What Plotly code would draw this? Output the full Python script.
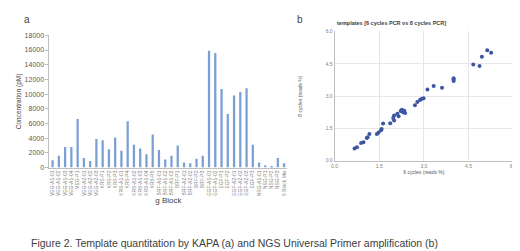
import plotly.graph_objects as go

# ---- Panel a: KAPA quantitation (bar chart) ----
blocks = ["VEG-A1-01", "VEG-A1-02", "VEG-A1-03", "VEG-A1-04", "VEG-P1", "VEG-A2-01",
          "VEG-A2-02", "VEG-A2-03", "KRS-P1", "KRS-P2", "KRS-P3", "KRS-A1-01",
          "KRS-P4", "KRS-A1-02", "KRS-A1-03", "KRS-A1-04", "KRS-P5", "BRF-A1-01",
          "BRF-A1-02", "BRF-A1-03", "BRF-P1", "BRF-A2-01", "BRF-A2-02", "BRF-P2",
          "BRF-P3", "EGF-A1-01", "EGF-A1-02", "EGF-P1", "EGF-P2", "EGF-A2-01",
          "EGF-A2-02", "EGF-A2-03", "EGF-P3", "NSG-A1-01", "NSG-P1", "NSG-P2",
          "NSG-P3", "5 Block Mix"]
concentration = [1000, 1600, 2800, 2800, 6600, 1300, 900, 3900, 3700, 2500,
                 4100, 2300, 6300, 3100, 2600, 1800, 4500, 2400, 1100, 1600,
                 3000, 700, 600, 1200, 1600, 15900, 15600, 10700, 7300, 9800,
                 10300, 10800, 3100, 700, 300, 200, 1300, 600]
y_ticks_a = [0, 2000, 4000, 6000, 8000, 10000, 12000, 14000, 16000, 18000]

# ---- Panel b: 6 vs 8 cycles PCR (scatter) ----
cycles6 = [0.67, 0.75, 0.89, 0.97, 1.08, 1.11, 1.17, 1.42, 1.48, 1.56, 1.58, 1.63,
           1.87, 2.00, 1.97, 2.00, 2.15, 2.11, 2.22, 2.26, 2.34, 2.30, 2.37,
           2.70, 2.78, 2.87, 2.92, 2.99, 3.12, 3.33, 3.61, 4.00, 4.00, 4.00,
           4.66, 4.87, 4.95, 5.13, 5.26]
cycles8 = [0.57, 0.63, 0.82, 0.86, 1.05, 1.09, 1.24, 1.24, 1.31, 1.42, 1.47, 1.73,
           1.74, 1.87, 1.98, 2.10, 2.07, 2.18, 2.31, 2.37, 2.32, 2.25, 2.22,
           2.58, 2.73, 2.82, 2.87, 2.90, 3.30, 3.47, 3.39, 3.70, 3.77, 3.83,
           4.47, 4.40, 4.82, 5.13, 5.01]
ticks_b = [0.0, 1.5, 3.0, 4.5, 6.0]

W, H = 520, 251
def px(x):
    return x / W
def py(y):
    return 1 - y / H

fig = go.Figure()
fig.add_trace(go.Bar(x=blocks, y=concentration, marker_color="#7a9fd4",
                     marker_line_width=0, width=0.36, xaxis="x", yaxis="y"))
fig.add_trace(go.Scatter(x=cycles6, y=cycles8, mode="markers",
                         marker=dict(color="#3c55a5", size=4),
                         xaxis="x2", yaxis="y2"))

font = "Liberation Sans, Arial, sans-serif"
fig.update_layout(
    width=W, height=H, margin=dict(l=0, r=0, t=0, b=0),
    paper_bgcolor="white", plot_bgcolor="white", showlegend=False,
    font=dict(family=font, color="#595959"),
    bargap=0.6,
    xaxis=dict(domain=[px(39), px(280)], type="category",
               range=[-0.5, len(blocks) - 0.5],
               tickangle=-90, tickfont=dict(size=5, color="#7f7f7f"),
               showline=True, linecolor="#bfbfbf", linewidth=1,
               ticks="", showgrid=False, anchor="y",
               title=dict(text="g Block", font=dict(size=8, color="#404040"),
                          standoff=2)),
    yaxis=dict(domain=[py(160), py(24)], range=[0, 18000],
               tickvals=y_ticks_a, tickformat="d",
               tickfont=dict(size=7, color="#595959"),
               showline=True, linecolor="#bfbfbf", linewidth=1,
               ticks="outside", ticklen=3, tickcolor="#bfbfbf",
               showgrid=False, zeroline=False, anchor="x",
               title=dict(text="Concentration (pM)", font=dict(size=6.5, color="#404040"),
                          standoff=2)),
    xaxis2=dict(domain=[px(328), px(509)], range=[0, 6], tickvals=ticks_b,
                ticktext=["%.1f" % t for t in ticks_b],
                tickfont=dict(size=5, color="#7f7f7f"),
                showline=True, linecolor="#bfbfbf", linewidth=1,
                showgrid=True, gridcolor="#e6e6e6", zeroline=False, anchor="y2",
                title=dict(text="6 cycles (reads %)", font=dict(size=5, color="#595959"),
                           standoff=0)),
    yaxis2=dict(domain=[py(153), py(20)], range=[0, 6], tickvals=ticks_b,
                ticktext=["%.1f" % t for t in ticks_b],
                tickfont=dict(size=5, color="#7f7f7f"),
                showline=True, linecolor="#bfbfbf", linewidth=1,
                showgrid=True, gridcolor="#e6e6e6", zeroline=False, anchor="x2",
                title=dict(text="8 cycles (reads %)", font=dict(size=5, color="#595959"),
                           standoff=22)),
    annotations=[
        dict(text="a", x=px(11), y=py(8), xref="paper", yref="paper",
             xanchor="left", yanchor="middle", showarrow=False,
             font=dict(size=10, color="#404040")),
        dict(text="b", x=px(288), y=py(8), xref="paper", yref="paper",
             xanchor="left", yanchor="middle", showarrow=False,
             font=dict(size=10, color="#404040")),
        dict(text="<b>templates [6 cycles PCR vs 8 cycles PCR]</b>", x=px(328), y=py(11),
             xref="paper", yref="paper", xanchor="left", yanchor="middle",
             showarrow=False, font=dict(size=5.5, color="#404040")),
        dict(text="Figure 2. Template quantitation by KAPA (a) and NGS Universal Primer amplification (b)",
             x=px(18), y=py(238), xref="paper", yref="paper", xanchor="left",
             yanchor="middle", showarrow=False, font=dict(size=10.5, color="#404040")),
    ],
)

fig.write_html("out.html")
